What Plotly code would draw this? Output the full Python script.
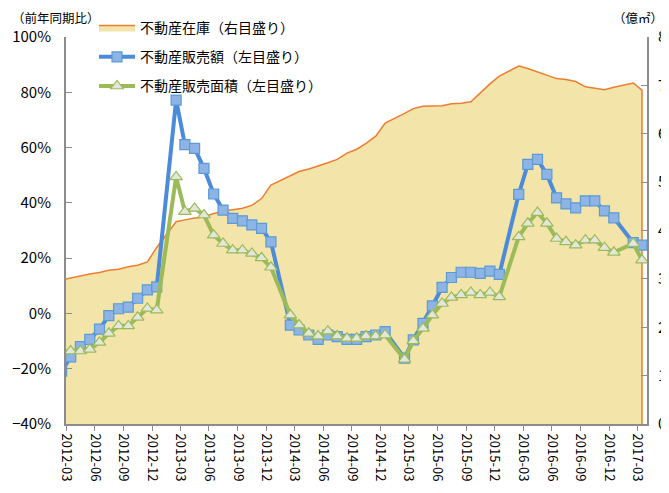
import plotly.graph_objects as go
import pandas as pd

# Monthly observations (January not published; Jan-Feb combined in February)
months = [f"{y}-{m:02d}" for y in range(2012, 2018) for m in range(2, 13)
          if not (y == 2017 and m > 3)]

# 不動産販売額 YoY (%), left axis
sales_value = [
    -20.9, -15.7, -12.0, -9.4, -5.7, -0.8, 1.7, 2.3, 5.5, 8.5, 9.6,          # 2012
    77.2, 61.1, 59.7, 52.5, 43.2, 37.4, 34.4, 33.5, 32.0, 30.8, 25.9,        # 2013
    -4.2, -6.0, -7.8, -9.4, -7.8, -8.4, -9.4, -9.4, -8.4, -7.8, -6.6,        # 2014
    -16.2, -9.6, -3.6, 2.7, 9.4, 13.0, 14.9, 14.9, 14.5, 15.3, 14.1,         # 2015
    43.1, 53.9, 55.7, 50.3, 41.8, 39.6, 38.2, 40.7, 40.7, 37.1, 34.6,        # 2016
    25.6, 24.7,                                                              # 2017
]

# 不動産販売面積 YoY (%), left axis
sales_area = [
    -13.9, -13.6, -13.6, -13.0, -10.5, -7.2, -4.5, -4.5, -1.4, 1.8, 1.2,     # 2012
    49.4, 36.8, 38.0, 35.6, 28.3, 25.3, 22.9, 22.9, 21.7, 20.1, 16.7,        # 2013
    -0.6, -4.2, -7.2, -8.2, -6.4, -8.2, -9.0, -9.0, -8.2, -8.2, -7.8,        # 2014
    -16.6, -9.9, -5.4, -0.6, 3.6, 5.8, 6.7, 7.6, 6.7, 7.6, 6.0,              # 2015
    27.7, 32.6, 36.5, 32.6, 27.1, 25.9, 24.7, 26.5, 26.5, 23.8, 22.1,        # 2016
    25.3, 19.3,                                                              # 2017
]

# 不動産在庫 (億㎡), right axis
inventory = [
    2.98, 3.02, 3.05, 3.10, 3.13, 3.18, 3.20, 3.25, 3.28, 3.35, 3.65,        # 2012
    4.18, 4.22, 4.26, 4.28, 4.35, 4.40, 4.43, 4.46, 4.52, 4.66, 4.94,        # 2013
    5.14, 5.22, 5.27, 5.33, 5.40, 5.47, 5.60, 5.68, 5.80, 5.95, 6.22,        # 2014
    6.42, 6.52, 6.57, 6.58, 6.58, 6.62, 6.63, 6.66, 6.85, 7.03, 7.19,        # 2015
    7.40, 7.35, 7.28, 7.20, 7.14, 7.12, 7.08, 6.97, 6.94, 6.91, 6.96,        # 2016
    7.05, 6.90,                                                              # 2017
]

names = ["不動産在庫（右目盛り）", "不動産販売額（左目盛り）", "不動産販売面積（左目盛り）"]

x = [pd.Timestamp(m + "-01") + pd.Timedelta(days=15) for m in months]

FONT = "Noto Sans CJK JP"
AXIS_COLOR = "#8c8c8c"

# The page body has an 8px default margin, so the figure is sized to fit.
W, H = 661, 485

fig = go.Figure()

# Area (closed down to zero at the last observation, as in the original)
fig.add_trace(go.Scatter(
    x=x + [x[-1]], y=inventory + [0], name=names[0], yaxis="y",
    mode="lines", line=dict(color="#ED7D31", width=1.5),
    fill="tozeroy", fillcolor="#F3E4A9", legendgroup="a",
))
fig.add_trace(go.Scatter(
    x=x, y=sales_value, name=names[1], yaxis="y2",
    mode="lines+markers", line=dict(color="#4C8BDA", width=4),
    marker=dict(symbol="square", size=10, color="#8DB4E4",
                line=dict(color="#5B9BD5", width=1.2)),
    legendgroup="b",
))
fig.add_trace(go.Scatter(
    x=x, y=sales_area, name=names[2], yaxis="y2",
    mode="lines+markers", line=dict(color="#9BBB59", width=4),
    marker=dict(symbol="triangle-up", size=11, color="#E4E6DC",
                line=dict(color="#9BBB59", width=1.2)),
    legendgroup="c",
))

fig.update_layout(
    width=W, height=H,
    margin=dict(l=58, r=22, t=29, b=69, autoexpand=False),
    paper_bgcolor="white", plot_bgcolor="white",
    font=dict(family=FONT, color="#000000", size=14),
    showlegend=True,
    legend=dict(xref="container", yref="container",
                x=86 / W, y=1 - 4 / H, xanchor="left", yanchor="top",
                bgcolor="rgba(0,0,0,0)", font=dict(size=14, family=FONT),
                tracegroupgap=8, itemwidth=36),
    xaxis=dict(
        type="date", range=["2012-03-01", "2017-04-01"],
        tick0="2012-03-01", dtick="M3", tickformat="%Y-%m",
        tickangle=90, ticks="outside", ticklen=5, tickcolor=AXIS_COLOR,
        showline=True, linecolor=AXIS_COLOR, linewidth=2,
        showgrid=False, zeroline=False, automargin=False,
        tickfont=dict(size=13, family=FONT),
    ),
    yaxis=dict(
        side="right", range=[0, 8], dtick=1,
        ticks="inside", ticklen=6, tickcolor=AXIS_COLOR,
        showline=True, linecolor=AXIS_COLOR, linewidth=2,
        showgrid=False, zeroline=False, ticklabelstandoff=6, automargin=False,
        tickfont=dict(size=15, family=FONT),
    ),
    yaxis2=dict(
        side="left", overlaying="y", range=[-40, 100], dtick=20,
        ticksuffix="%", ticks="inside", ticklen=6, tickcolor=AXIS_COLOR,
        showline=True, linecolor=AXIS_COLOR, linewidth=2,
        showgrid=False, zeroline=False, ticklabelstandoff=10, automargin=False,
        tickfont=dict(size=15, family=FONT),
    ),
    annotations=[
        dict(text="（前年同期比）", xref="paper", yref="paper",
             x=-0.095, y=1.0, xanchor="left", yanchor="middle", yshift=20,
             borderpad=0, showarrow=False, font=dict(size=12.5, family=FONT)),
        dict(text="（億㎡）", xref="paper", yref="paper",
             x=1.03, y=1.0, xanchor="right", yanchor="middle", yshift=20,
             borderpad=0, showarrow=False, font=dict(size=12.5, family=FONT)),
    ],
)

fig.write_html("out.html")
